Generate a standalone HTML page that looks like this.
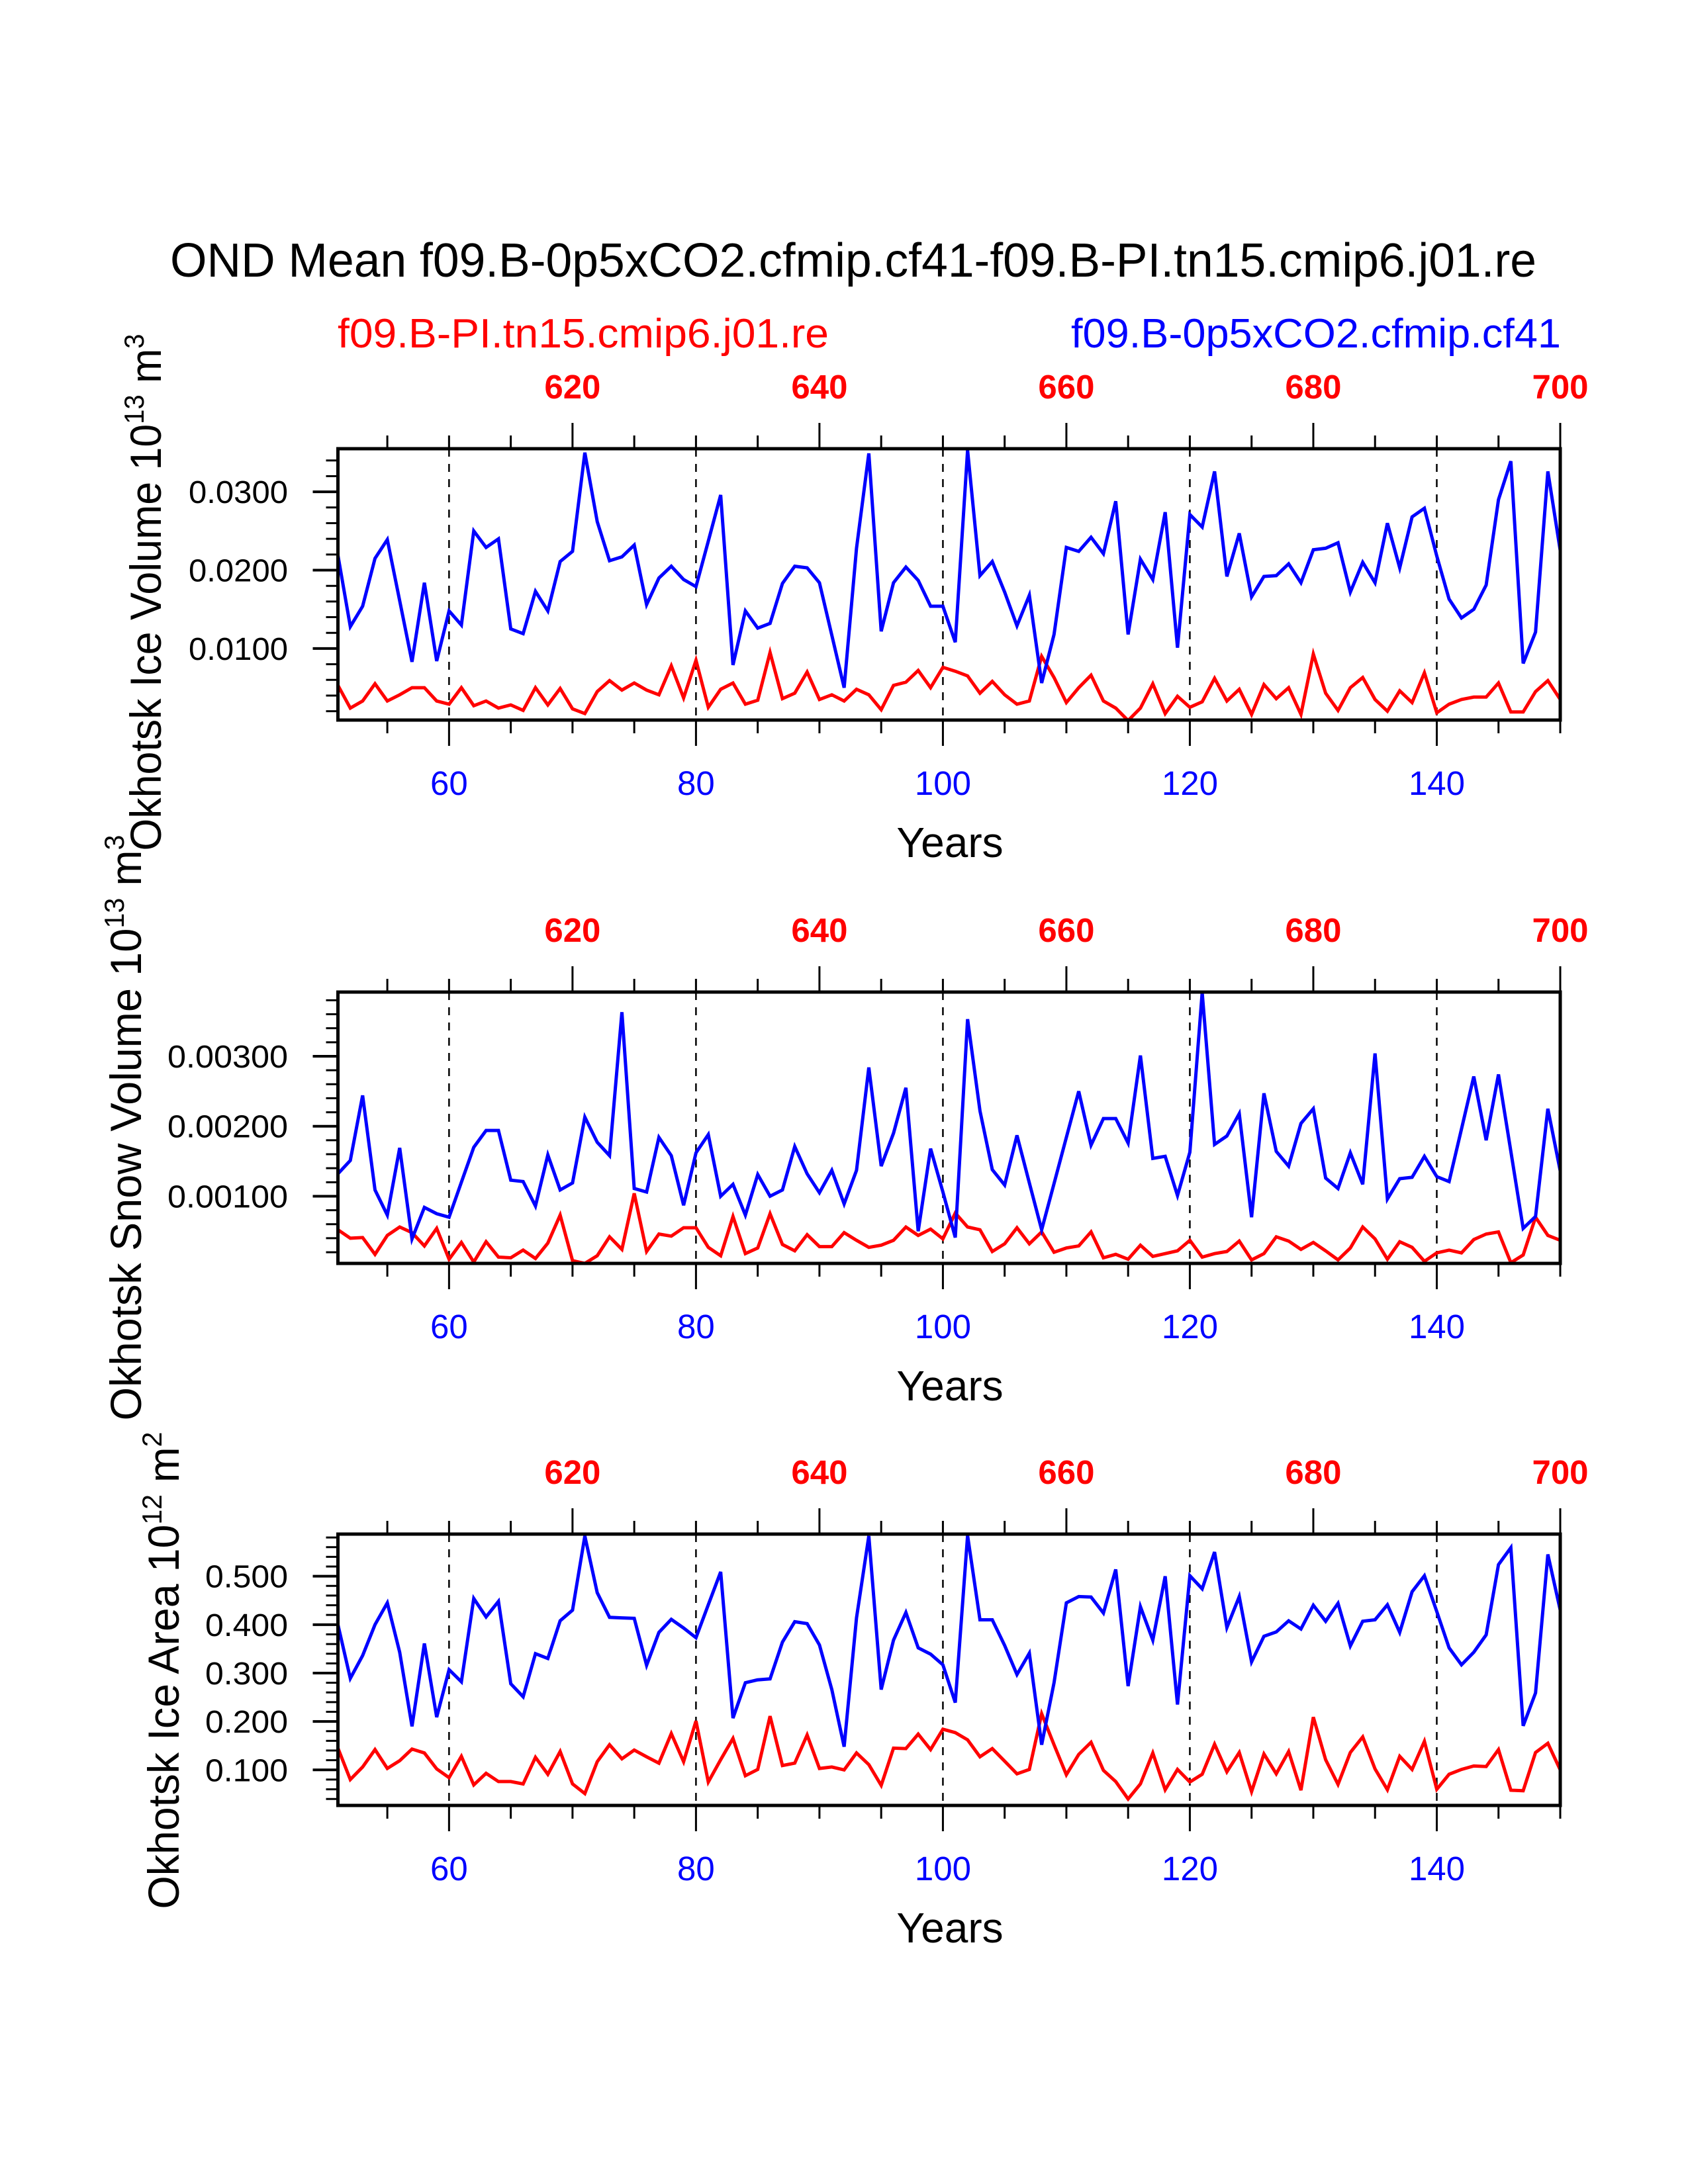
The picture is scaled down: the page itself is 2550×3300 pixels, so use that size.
<!DOCTYPE html>
<html><head><meta charset="utf-8"><style>
html,body{margin:0;padding:0;background:#fff;}
svg{display:block;font-family:"Liberation Sans",Arial,sans-serif;}
</style></head><body>
<svg id="chart" xmlns="http://www.w3.org/2000/svg" width="2550" height="3300" viewBox="0 0 2550 3300">
<rect width="2550" height="3300" fill="#fff"/>
<text x="257" y="418" font-size="72" textLength="2064" lengthAdjust="spacingAndGlyphs">OND Mean f09.B-0p5xCO2.cfmip.cf41-f09.B-PI.tn15.cmip6.j01.re</text>
<text x="510" y="525" font-size="62" fill="#ff0000" textLength="742" lengthAdjust="spacingAndGlyphs">f09.B-PI.tn15.cmip6.j01.re</text>
<text x="1618" y="525" font-size="62" fill="#0000ff" textLength="740" lengthAdjust="spacingAndGlyphs">f09.B-0p5xCO2.cfmip.cf41</text>
<g id="plots"></g>
</svg>
<script>
// Shared x-axis data
const years = [];
for (let y = 51; y <= 150; y++) years.push(y);
const bottomTickLabels = [60, 80, 100, 120, 140];
const topTickLabels = [620, 640, 660, 680, 700];
const topOffset = 550;

// Panel 1: ice volume (1e13 m^3)
const iceVolExp = [0.0219,0.0128,0.0154,0.0215,0.0239,0.0161,0.0083,0.0184,0.0084,0.0148,
0.0130,0.0250,0.0229,0.0240,0.0125,0.0119,0.0173,0.0148,0.0211,0.0224,
0.0350,0.0262,0.0212,0.0217,0.0232,0.0156,0.0190,0.0205,0.0188,0.0179,
0.0237,0.0296,0.0079,0.0148,0.0126,0.0132,0.0183,0.0205,0.0203,0.0184,
0.0117,0.0050,0.0228,0.0349,0.0122,0.0184,0.0204,0.0187,0.0154,0.0154,
0.0108,0.0353,0.0193,0.0211,0.0172,0.0129,0.0168,0.0056,0.0118,0.0229,
0.0224,0.0242,0.0221,0.0288,0.0118,0.0214,0.0188,0.0274,0.0101,0.0271,
0.0255,0.0326,0.0192,0.0247,0.0166,0.0192,0.0193,0.0208,0.0184,0.0226,
0.0228,0.0235,0.0172,0.0210,0.0184,0.0260,0.0203,0.0268,0.0279,0.0218,
0.0163,0.0139,0.0150,0.0181,0.0290,0.0339,0.0081,0.0121,0.0326,0.0225];
const iceVolCtl = [0.0053,0.0024,0.0033,0.0055,0.0033,0.0041,0.0050,0.0050,0.0033,0.0029,
0.0050,0.0027,0.0033,0.0024,0.0028,0.0021,0.0050,0.0028,0.0049,0.0023,
0.0017,0.0045,0.0059,0.0047,0.0056,0.0047,0.0041,0.0078,0.0037,0.0085,
0.0025,0.0048,0.0056,0.0029,0.0034,0.0095,0.0036,0.0043,0.0070,0.0035,
0.0041,0.0033,0.0048,0.0041,0.0022,0.0053,0.0057,0.0072,0.0050,0.0076,
0.0071,0.0065,0.0043,0.0058,0.0041,0.0029,0.0033,0.0090,0.0063,0.0031,
0.0050,0.0066,0.0033,0.0024,0.0008,0.0024,0.0055,0.0017,0.0039,0.0025,
0.0032,0.0062,0.0033,0.0048,0.0016,0.0054,0.0036,0.0050,0.0016,0.0093,
0.0043,0.0021,0.0050,0.0063,0.0035,0.0020,0.0046,0.0031,0.0069,0.0018,
0.0029,0.0035,0.0038,0.0038,0.0056,0.0019,0.0019,0.0045,0.0059,0.0035];
const iceVolTicks = [0.01, 0.02, 0.03];
const iceVolTickLabels = ["0.0100","0.0200","0.0300"];

// Panel 2: snow volume (1e13 m^3)
const snowVolExp = [0.00132,0.00151,0.00244,0.00109,0.00073,0.00169,0.00039,0.00084,0.00075,0.00070,
0.00120,0.00170,0.00194,0.00194,0.00123,0.00121,0.00086,0.00159,0.00109,0.00119,
0.00213,0.00177,0.00158,0.00363,0.00111,0.00106,0.00184,0.00158,0.00087,0.00162,
0.00188,0.00100,0.00117,0.00073,0.00131,0.00100,0.00109,0.00171,0.00132,0.00105,
0.00137,0.00089,0.00137,0.00284,0.00143,0.00190,0.00255,0.00050,0.00168,0.00106,
0.00041,0.00353,0.00222,0.00138,0.00116,0.00187,0.00119,0.00052,0.00118,0.00184,
0.00250,0.00173,0.00211,0.00211,0.00176,0.00301,0.00154,0.00157,0.00101,0.00163,
0.00391,0.00174,0.00186,0.00218,0.00070,0.00247,0.00164,0.00143,0.00204,0.00225,
0.00126,0.00111,0.00162,0.00117,0.00304,0.00096,0.00125,0.00127,0.00157,0.00128,
0.00121,0.00196,0.00271,0.00180,0.00274,0.00164,0.00054,0.00071,0.00225,0.00136];
const snowVolCtl = [0.00052,0.00040,0.00041,0.00017,0.00044,0.00056,0.00048,0.00029,0.00054,0.00010,
0.00034,0.00006,0.00035,0.00013,0.00012,0.00023,0.00011,0.00033,0.00073,0.00008,
0.00004,0.00015,0.00042,0.00024,0.00104,0.00021,0.00046,0.00043,0.00055,0.00055,
0.00027,0.00015,0.00071,0.00018,0.00026,0.00075,0.00031,0.00022,0.00045,0.00028,
0.00028,0.00048,0.00037,0.00027,0.00030,0.00037,0.00056,0.00044,0.00053,0.00039,
0.00076,0.00056,0.00052,0.00021,0.00032,0.00055,0.00032,0.00049,0.00020,0.00026,
0.00029,0.00049,0.00012,0.00017,0.00010,0.00030,0.00014,0.00018,0.00022,0.00037,
0.00013,0.00018,0.00021,0.00036,0.00009,0.00018,0.00042,0.00036,0.00024,0.00034,
0.00022,0.00009,0.00026,0.00056,0.00039,0.00010,0.00035,0.00027,0.00007,0.00019,
0.00023,0.00019,0.00038,0.00046,0.00049,0.00005,0.00016,0.00070,0.00044,0.00037];
const snowVolTicks = [0.001, 0.002, 0.003];
const snowVolTickLabels = ["0.00100","0.00200","0.00300"];

// Panel 3: ice area (1e12 m^2)
const iceAreaExp = [0.400,0.289,0.336,0.400,0.445,0.343,0.190,0.361,0.209,0.307,
0.282,0.454,0.416,0.448,0.278,0.251,0.340,0.330,0.408,0.430,
0.583,0.466,0.415,0.414,0.413,0.316,0.384,0.411,0.393,0.373,
0.441,0.509,0.207,0.280,0.286,0.288,0.364,0.406,0.402,0.358,
0.266,0.148,0.414,0.583,0.266,0.368,0.425,0.352,0.339,0.317,
0.239,0.584,0.410,0.410,0.357,0.297,0.341,0.152,0.280,0.445,
0.458,0.457,0.424,0.514,0.273,0.437,0.368,0.500,0.235,0.501,
0.474,0.550,0.394,0.458,0.323,0.376,0.385,0.408,0.391,0.440,
0.407,0.444,0.356,0.407,0.410,0.441,0.384,0.468,0.501,0.427,
0.352,0.317,0.343,0.379,0.524,0.559,0.191,0.259,0.545,0.430];
const iceAreaCtl = [0.145,0.080,0.106,0.142,0.103,0.119,0.143,0.135,0.102,0.084,
0.128,0.069,0.093,0.076,0.076,0.071,0.126,0.091,0.138,0.071,
0.051,0.117,0.152,0.123,0.141,0.127,0.114,0.175,0.117,0.201,
0.075,0.121,0.165,0.088,0.101,0.211,0.109,0.114,0.172,0.103,
0.106,0.100,0.135,0.111,0.068,0.145,0.144,0.174,0.142,0.184,
0.177,0.162,0.127,0.144,0.118,0.092,0.101,0.216,0.152,0.090,
0.132,0.157,0.099,0.076,0.040,0.071,0.135,0.059,0.101,0.075,
0.091,0.153,0.096,0.136,0.055,0.133,0.092,0.138,0.058,0.209,
0.121,0.070,0.136,0.168,0.102,0.059,0.128,0.101,0.159,0.060,
0.091,0.101,0.108,0.107,0.142,0.058,0.057,0.136,0.155,0.100];
const iceAreaTicks = [0.1, 0.2, 0.3, 0.4, 0.5];
const iceAreaTickLabels = ["0.100","0.200","0.300","0.400","0.500"];

const NS = "http://www.w3.org/2000/svg";
const root = document.getElementById("plots");
function mk(tag, attrs, parent) {
  const e = document.createElementNS(NS, tag);
  for (const k in attrs) e.setAttribute(k, attrs[k]);
  (parent || root).appendChild(e);
  return e;
}
const X0 = 510.5, X1 = 2357, XMIN = 51, XMAX = 150;
function xs(v) { return X0 + (v - XMIN) / (XMAX - XMIN) * (X1 - X0); }

function drawPanel(cfg) {
  const g = mk("g", {});
  
  
  const top = cfg.top, bot = cfg.top + 410;
  function ys(v) { return bot - (v - cfg.ymin) / (cfg.ymax - cfg.ymin) * (bot - top); }
  bottomTickLabels.forEach(function (yr) {
    const l = mk("line", {x1: xs(yr), x2: xs(yr), y1: top, y2: bot, stroke: "#000", "stroke-width": 2.5, "stroke-dasharray": "12 11"}, g);
    
    
  });
  function series(vals, color, nm) {
    let d = "";
    vals.forEach(function (v, i) { d += (i ? "L" : "M") + xs(years[i]).toFixed(1) + " " + ys(v).toFixed(1); });
    const p = mk("path", {d: d, fill: "none", stroke: color, "stroke-width": 5, "stroke-linejoin": "miter"}, g);
    
    
  }
  series(cfg.ctl, "#ff0000", cfg.name + "-control-line");
  series(cfg.exp, "#0000ff", cfg.name + "-experiment-line");
  const fr = mk("rect", {x: X0, y: top, width: X1 - X0, height: bot - top, fill: "none", stroke: "#000", "stroke-width": 5}, g);
  
  
  for (let yr = 55; yr <= 150; yr += 5) {
    const major = bottomTickLabels.indexOf(yr) >= 0;
    mk("line", {x1: xs(yr), x2: xs(yr), y1: bot, y2: bot + (major ? 39 : 20), stroke: "#000", "stroke-width": 3}, g);
    const topMajor = topTickLabels.indexOf(yr + topOffset) >= 0;
    mk("line", {x1: xs(yr), x2: xs(yr), y1: top, y2: top - (topMajor ? 39 : 20), stroke: "#000", "stroke-width": 3}, g);
  }
  bottomTickLabels.forEach(function (yr) {
    const t = mk("text", {x: xs(yr), y: bot + 113, "font-size": 51, fill: "#0000ff", "text-anchor": "middle"}, g);
    t.textContent = yr;
    
    
  });
  topTickLabels.forEach(function (yr) {
    const t = mk("text", {x: xs(yr - topOffset), y: top - 76, "font-size": 51, "font-weight": "bold", fill: "#ff0000", "text-anchor": "middle"}, g);
    t.textContent = yr;
    
    
  });
  for (let v = cfg.minorStart; v <= cfg.ymax + 1e-12; v += cfg.minor) {
    const y = ys(v);
    if (y < top - 1 || y > bot + 1) continue;
    const isMajor = cfg.ticks.some(function (t) { return Math.abs(t - v) < cfg.minor / 10; });
    mk("line", {x1: X0, x2: X0 - (isMajor ? 38 : 18), y1: y, y2: y, stroke: "#000", "stroke-width": isMajor ? 4 : 3}, g);
  }
  cfg.ticks.forEach(function (v, i) {
    const t = mk("text", {x: 435, y: ys(v) + 17, "font-size": 48, "text-anchor": "end", textLength: cfg.tickLen, lengthAdjust: "spacingAndGlyphs"}, g);
    t.textContent = cfg.tickLabels[i];
    
    
  });
  const yt = mk("text", {x: 1435, y: bot + 207, "font-size": 64, "text-anchor": "middle"}, g);
  yt.textContent = "Years";
  
  
  const t = mk("text", {transform: "translate(" + cfg.labX + "," + cfg.labC + ") rotate(-90)", "font-size": 66, "text-anchor": "middle", textLength: cfg.labLen, lengthAdjust: "spacingAndGlyphs"}, g);
  
  
  t.innerHTML = cfg.label;
}

drawPanel({name: "ice-volume-panel", top: 678, ymin: 0.00087, ymax: 0.0355, exp: iceVolExp, ctl: iceVolCtl,
  ticks: iceVolTicks, tickLabels: iceVolTickLabels, minor: 0.002, minorStart: 0.002, tickLen: 150,
  labX: 243, labC: 895, labLen: 781,
  label: 'Okhotsk Ice Volume 10<tspan dy="-26" font-size="42">13</tspan><tspan dy="26"> m</tspan><tspan dy="-26" font-size="42">3</tspan>'});
drawPanel({name: "snow-volume-panel", top: 1499, ymin: 0.00004, ymax: 0.003917, exp: snowVolExp, ctl: snowVolCtl,
  ticks: snowVolTicks, tickLabels: snowVolTickLabels, minor: 0.0002, minorStart: 0.0002, tickLen: 182,
  labX: 213, labC: 1704, labLen: 885,
  label: 'Okhotsk Snow Volume 10<tspan dy="-26" font-size="42">13</tspan><tspan dy="26"> m</tspan><tspan dy="-26" font-size="42">3</tspan>'});
drawPanel({name: "ice-area-panel", top: 2318, ymin: 0.0266, ymax: 0.587, exp: iceAreaExp, ctl: iceAreaCtl,
  ticks: iceAreaTicks, tickLabels: iceAreaTickLabels, minor: 0.02, minorStart: 0.04, tickLen: 125,
  labX: 270, labC: 2524, labLen: 721,
  label: 'Okhotsk Ice Area 10<tspan dy="-26" font-size="42">12</tspan><tspan dy="26"> m</tspan><tspan dy="-26" font-size="42">2</tspan>'});
</script>
</body></html>
